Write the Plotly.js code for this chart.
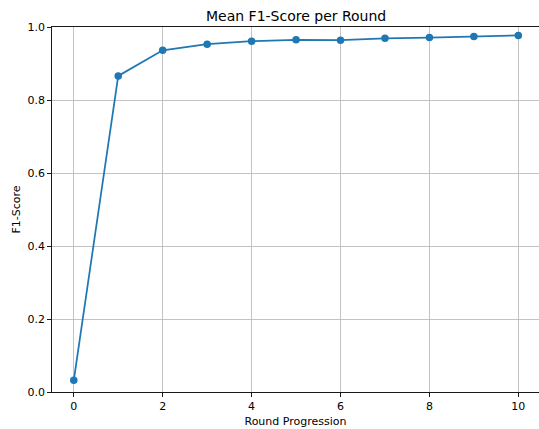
<!DOCTYPE html>
<html>
<head>
<meta charset="utf-8">
<script src="https://cdn.plot.ly/plotly-3.0.1.min.js"></script>
<style>html,body{margin:0;padding:0;background:#fff;}#chart{width:539px;height:429px;}</style>
</head>
<body>
<div id="chart"></div>
<script>
const rounds = [0, 1, 2, 3, 4, 5, 6, 7, 8, 9, 10];
const meanF1 = [0.032, 0.866, 0.936, 0.953, 0.961, 0.965, 0.964, 0.969, 0.971, 0.974, 0.977];
const xTicks = [0, 2, 4, 6, 8, 10];
const yTicks = [0.0, 0.2, 0.4, 0.6, 0.8, 1.0];

const font = {family: 'DejaVu Sans, sans-serif', size: 11, color: '#000'};

const trace = {
  x: rounds, y: meanF1, type: 'scatter', mode: 'lines+markers',
  line: {color: '#1f77b4', width: 1.75},
  marker: {color: '#1f77b4', size: 7.5},
  hoverinfo: 'skip'
};

const layout = {
  width: 539, height: 429,
  margin: {l: 51.5, r: 0, t: 26.7, b: 36.7, pad: 0},
  paper_bgcolor: '#fff', plot_bgcolor: '#fff',
  showlegend: false,
  font: font,
  title: {text: 'Mean F1-Score per Round', font: {family: font.family, size: 14, color: '#000'},
          x: 0.5494, xanchor: 'center', y: 0.952, yanchor: 'bottom', yref: 'container'},
  xaxis: {
    range: [-0.49, 10.465], tickvals: xTicks, ticktext: xTicks.map(String),
    showgrid: true, gridcolor: '#bdbdbd', gridwidth: 0.9,
    showline: true, linecolor: '#000', linewidth: 0.9, mirror: true,
    ticks: 'outside', ticklen: 4, tickwidth: 0.9, tickcolor: '#000',
    zeroline: false, tickfont: font,
    title: {text: 'Round Progression', font: font, standoff: 5}
  },
  yaxis: {
    range: [0, 1], tickvals: yTicks, ticktext: yTicks.map(v => v.toFixed(1)),
    showgrid: true, gridcolor: '#bdbdbd', gridwidth: 0.9,
    showline: true, linecolor: '#000', linewidth: 0.9, mirror: false,
    ticks: 'outside', ticklen: 4, tickwidth: 0.9, tickcolor: '#000',
    zeroline: false, tickfont: font,
    title: {text: 'F1-Score', font: font, standoff: 4}
  }
};

Plotly.newPlot('chart', [trace], layout, {displayModeBar: false, staticPlot: true});
</script>
</body>
</html>
